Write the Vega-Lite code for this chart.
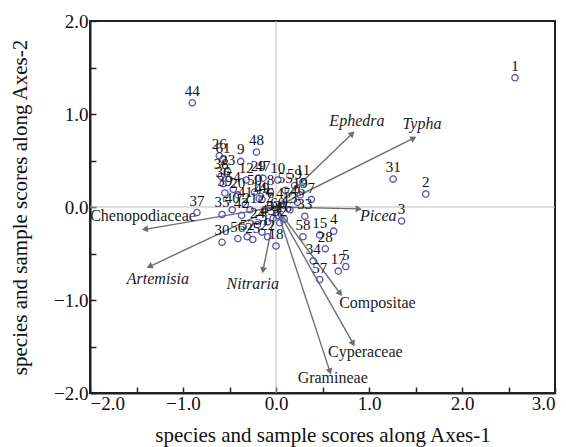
{
  "$schema": "https://vega.github.io/schema/vega-lite/v6.json",
  "width": 465,
  "height": 372,
  "autosize": "none",
  "padding": {"left": 90, "top": 21, "right": 11, "bottom": 54},
  "background": "white",
  "config": {
    "view": {"stroke": "#222", "strokeWidth": 2},
    "font": "Liberation Serif",
    "axis": {
      "grid": false,
      "tickSize": -6,
      "tickColor": "#222",
      "tickWidth": 1.5,
      "domainColor": "#222",
      "domainWidth": 2,
      "labelFont": "Liberation Serif",
      "labelFontSize": 19,
      "labelColor": "#111",
      "labelOverlap": false,
      "titleFont": "Liberation Serif",
      "titleFontSize": 21,
      "titleFontWeight": "normal",
      "titleColor": "#111"
    }
  },
  "datasets": {
    "samples": [
      {"id": "1", "x": 2.57, "y": 1.39},
      {"id": "2", "x": 1.61, "y": 0.14},
      {"id": "3", "x": 1.35, "y": -0.15},
      {"id": "4", "x": 0.62, "y": -0.26},
      {"id": "5", "x": 0.75, "y": -0.64},
      {"id": "6", "x": -0.06, "y": 0.02},
      {"id": "7", "x": 0.38, "y": 0.08},
      {"id": "8", "x": -0.06, "y": 0.16},
      {"id": "9", "x": -0.38, "y": 0.49},
      {"id": "10", "x": 0.02, "y": 0.29},
      {"id": "11", "x": 0.29, "y": 0.27},
      {"id": "12", "x": -0.32, "y": 0.29},
      {"id": "13", "x": 0.15, "y": -0.03},
      {"id": "14", "x": -0.18, "y": 0.09},
      {"id": "15", "x": 0.47, "y": -0.30},
      {"id": "16", "x": 0.09, "y": -0.13},
      {"id": "17", "x": 0.67, "y": -0.69},
      {"id": "18", "x": 0.0, "y": -0.42},
      {"id": "19", "x": 0.26, "y": 0.13},
      {"id": "20", "x": -0.41, "y": 0.13},
      {"id": "21", "x": -0.28, "y": -0.03},
      {"id": "22", "x": -0.09, "y": -0.32},
      {"id": "23", "x": -0.52, "y": 0.38},
      {"id": "24", "x": -0.20, "y": -0.19},
      {"id": "25", "x": -0.25, "y": -0.35},
      {"id": "26", "x": -0.61, "y": 0.55},
      {"id": "27", "x": -0.12, "y": -0.03},
      {"id": "28", "x": 0.53, "y": -0.45},
      {"id": "29", "x": -0.19, "y": 0.31},
      {"id": "30", "x": -0.58, "y": -0.38},
      {"id": "31", "x": 1.26, "y": 0.30},
      {"id": "32", "x": 0.04, "y": -0.17},
      {"id": "33", "x": 0.31, "y": -0.10},
      {"id": "34", "x": 0.40, "y": -0.58},
      {"id": "35", "x": -0.58, "y": -0.08},
      {"id": "36", "x": -0.57, "y": 0.25},
      {"id": "37", "x": -0.85, "y": -0.06},
      {"id": "38", "x": -0.59, "y": 0.33},
      {"id": "39", "x": -0.55, "y": 0.15},
      {"id": "40", "x": -0.47, "y": -0.03},
      {"id": "41", "x": -0.33, "y": 0.03},
      {"id": "42", "x": -0.37, "y": -0.09},
      {"id": "43", "x": -0.09, "y": -0.16},
      {"id": "44", "x": -0.90, "y": 1.12},
      {"id": "45", "x": 0.08, "y": 0.02},
      {"id": "46", "x": 0.23, "y": 0.05},
      {"id": "47", "x": -0.14, "y": 0.31},
      {"id": "48", "x": -0.21, "y": 0.59},
      {"id": "49", "x": -0.15, "y": 0.08},
      {"id": "50", "x": -0.23, "y": 0.16},
      {"id": "51", "x": -0.15, "y": -0.27},
      {"id": "52", "x": -0.31, "y": -0.32},
      {"id": "53", "x": -0.03, "y": -0.12},
      {"id": "54", "x": -0.46, "y": 0.19},
      {"id": "55", "x": 0.10, "y": 0.18},
      {"id": "56", "x": -0.41, "y": -0.34},
      {"id": "57", "x": 0.47, "y": -0.78},
      {"id": "58", "x": 0.29, "y": -0.32},
      {"id": "59", "x": 0.20, "y": 0.23},
      {"id": "60", "x": 0.02, "y": -0.09},
      {"id": "61", "x": -0.57, "y": 0.51}
    ],
    "species": [
      {"name": "Ephedra", "x": 0.82, "y": 0.79},
      {"name": "Typha", "x": 1.48, "y": 0.74},
      {"name": "Picea", "x": 0.89, "y": -0.02},
      {"name": "Chenopodiaceae", "x": -1.41, "y": -0.24},
      {"name": "Artemisia", "x": -1.36, "y": -0.64},
      {"name": "Nitraria", "x": -0.14, "y": -0.68},
      {"name": "Compositae", "x": 0.69, "y": -0.93},
      {"name": "Cyperaceae", "x": 0.83, "y": -1.47},
      {"name": "Gramineae", "x": 0.58, "y": -1.77}
    ],
    "speciesLabels": [
      {"name": "Ephedra", "x": 0.87, "y": 0.92},
      {"name": "Typha", "x": 1.57, "y": 0.89},
      {"name": "Picea", "x": 1.10, "y": -0.10},
      {"name": "Chenopodiaceae", "x": -1.43, "y": -0.10},
      {"name": "Artemisia", "x": -1.27, "y": -0.77},
      {"name": "Nitraria", "x": -0.25, "y": -0.83},
      {"name": "Compositae", "x": 1.09, "y": -1.03},
      {"name": "Cyperaceae", "x": 0.96, "y": -1.56},
      {"name": "Gramineae", "x": 0.61, "y": -1.84}
    ]
  },
  "layer": [
    {
      "data": {"values": [{"v": 0}]},
      "mark": {"type": "rule", "color": "#bdbdbd", "strokeWidth": 1},
      "encoding": {"x": {"field": "v", "type": "quantitative", "scale": {"domain": [-2, 3], "nice": false, "zero": false},
          "axis": {"title": "species and sample scores along Axes-1", "values": [-2, -1.5, -1, -0.5, 0, 0.5, 1, 1.5, 2, 2.5, 3], "format": ".1f", "labelExpr": "datum.value % 1 == 0 ? datum.label : ''", "labelPadding": 7, "titlePadding": 11}}}
    },
    {
      "data": {"values": [{"v": 0}]},
      "mark": {"type": "rule", "color": "#bdbdbd", "strokeWidth": 1},
      "encoding": {"y": {"field": "v", "type": "quantitative", "scale": {"domain": [-2, 2], "nice": false, "zero": false},
          "axis": {"title": "species and sample scores along Axes-2", "values": [-2, -1.5, -1, -0.5, 0, 0.5, 1, 1.5, 2], "format": ".1f", "labelExpr": "datum.value % 1 == 0 ? datum.label : ''", "labelPadding": 8, "titlePadding": 23}}}
    },
    {
      "data": {"name": "species"},
      "mark": {"type": "rule", "color": "#6e6e6e", "strokeWidth": 1.4},
      "encoding": {
        "x": {"field": "x", "type": "quantitative"},
        "y": {"field": "y", "type": "quantitative"},
        "x2": {"datum": 0},
        "y2": {"datum": 0}
      }
    },
    {
      "data": {"name": "species"},
      "transform": [{"calculate": "atan2(datum.x, datum.y) * 180 / PI", "as": "angle"}],
      "mark": {"type": "point", "shape": "triangle-up", "filled": true, "color": "#6e6e6e", "size": 50, "opacity": 1},
      "encoding": {
        "x": {"field": "x", "type": "quantitative"},
        "y": {"field": "y", "type": "quantitative"},
        "angle": {"field": "angle", "type": "quantitative", "scale": null}
      }
    },
    {
      "data": {"name": "speciesLabels"},
      "transform": [{"filter": {"field": "name", "oneOf": ["Chenopodiaceae", "Compositae", "Cyperaceae", "Gramineae"]}}],
      "mark": {"type": "text", "font": "Liberation Serif", "fontSize": 16, "color": "#222", "align": "center", "baseline": "middle"},
      "encoding": {
        "x": {"field": "x", "type": "quantitative"},
        "y": {"field": "y", "type": "quantitative"},
        "text": {"field": "name"}
      }
    },
    {
      "data": {"name": "speciesLabels"},
      "transform": [{"filter": {"field": "name", "oneOf": ["Ephedra", "Typha", "Picea", "Artemisia", "Nitraria"]}}],
      "mark": {"type": "text", "font": "Liberation Serif", "fontSize": 16, "fontStyle": "italic", "color": "#222", "align": "center", "baseline": "middle"},
      "encoding": {
        "x": {"field": "x", "type": "quantitative"},
        "y": {"field": "y", "type": "quantitative"},
        "text": {"field": "name"}
      }
    },
    {
      "data": {"name": "samples"},
      "mark": {"type": "point", "shape": "circle", "filled": false, "color": "#5252b0", "strokeWidth": 1.3, "size": 40, "opacity": 1},
      "encoding": {
        "x": {"field": "x", "type": "quantitative"},
        "y": {"field": "y", "type": "quantitative"}
      }
    },
    {
      "data": {"name": "samples"},
      "mark": {"type": "text", "font": "Liberation Serif", "fontSize": 15, "color": "#111", "align": "center", "baseline": "middle", "dy": -12},
      "encoding": {
        "x": {"field": "x", "type": "quantitative"},
        "y": {"field": "y", "type": "quantitative"},
        "text": {"field": "id"}
      }
    }
  ]
}
